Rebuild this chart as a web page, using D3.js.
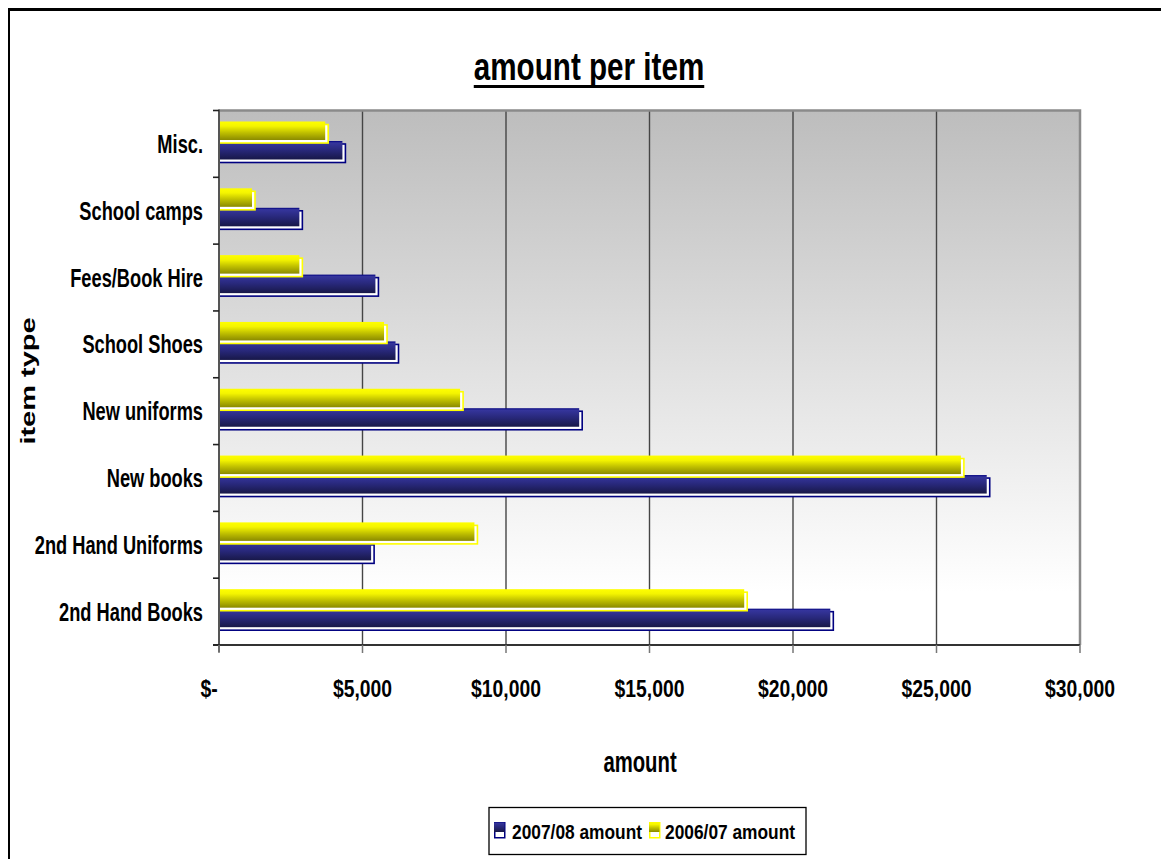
<!DOCTYPE html>
<html>
<head>
<meta charset="utf-8">
<script src="https://cdn.jsdelivr.net/npm/d3@7"></script>
<style>
  body { margin: 0; background: #fff; }
  svg { display: block; }
  text { font-family: "Liberation Sans", Arial, sans-serif; font-weight: bold; fill: #000; }
</style>
</head>
<body>
<svg id="chart" width="1161" height="859"></svg>
<script>
// Categories listed top to bottom as they appear on the vertical axis
const categories = ["Misc.", "School camps", "Fees/Book Hire", "School Shoes",
                    "New uniforms", "New books", "2nd Hand Uniforms", "2nd Hand Books"];
const seriesNames = ["2006/07 amount", "2007/08 amount"];
const amount0607 = [3700, 1150, 2800, 5750, 8400, 25850, 8900, 18300];
const amount0708 = [4300, 2800, 5450, 6150, 12550, 26750, 5300, 21300];
const xTicks = [0, 5000, 10000, 15000, 20000, 25000, 30000];

const seriesValues = { "2006/07 amount": amount0607, "2007/08 amount": amount0708 };
const seriesStyle = {
  "2007/08 amount": { grad: "gradBlue", stroke: "#000080" },
  "2006/07 amount": { grad: "gradYellow", stroke: "#ffff00" }
};

const svg = d3.select("#chart");
const defs = svg.append("defs");

function vGradient(id, stops) {
  const g = defs.append("linearGradient").attr("id", id)
    .attr("x1", 0).attr("y1", 0).attr("x2", 0).attr("y2", 1);
  stops.forEach(s => g.append("stop").attr("offset", s[0]).attr("stop-color", s[1]));
}
vGradient("gradPlot", [[0, "#bdbdbd"], [0.55, "#e6e6e6"], [0.9, "#ffffff"], [1, "#ffffff"]]);
vGradient("gradBlue", [[0, "#000080"], [0.1, "#35359c"], [0.5, "#28287a"], [1, "#181848"]]);
vGradient("gradYellow", [[0, "#ffff00"], [0.25, "#f4f400"], [0.6, "#c0c000"], [1, "#8a8a00"]]);

// Text helper: bold, horizontally condensed labels
function label(parent, str, x, y, size, sx, anchor, rotate) {
  const g = parent.append("g")
    .attr("transform", `translate(${x},${y})` + (rotate ? ` rotate(${rotate})` : "") + ` scale(${sx},1)`);
  g.append("text").attr("text-anchor", anchor).attr("font-size", size).text(str);
  return g;
}

// Outer frame
svg.append("line").attr("x1", 8).attr("x2", 1161).attr("y1", 9.5).attr("y2", 9.5)
  .attr("stroke", "#000").attr("stroke-width", 3);
svg.append("line").attr("x1", 9).attr("x2", 9).attr("y1", 8).attr("y2", 859)
  .attr("stroke", "#000").attr("stroke-width", 2);

// Scales
const x = d3.scaleLinear().domain([0, 30000]).range([219, 1080]);
const y = d3.scaleBand().domain(categories).range([110.5, 645]).padding(0);
const y1 = d3.scaleBand().domain(seriesNames).range([11, 49]).paddingInner(0.05);

// Plot area
svg.append("rect").attr("x", x(0)).attr("y", y.range()[0])
  .attr("width", x(30000) - x(0)).attr("height", y.range()[1] - y.range()[0])
  .attr("fill", "url(#gradPlot)");

// Vertical gridlines
svg.selectAll("line.grid").data(xTicks.slice(1, -1)).join("line").attr("class", "grid")
  .attr("x1", d => x(d)).attr("x2", d => x(d))
  .attr("y1", y.range()[0]).attr("y2", y.range()[1])
  .attr("stroke", "#454545").attr("stroke-width", 1.4);

// Plot border (top and right)
svg.append("path")
  .attr("d", `M${x(0)},${y.range()[0]}H${x(30000)}V${y.range()[1]}`)
  .attr("fill", "none").attr("stroke", "#8a8a8a").attr("stroke-width", 2.5);

// Bars: 2007/08 drawn first, 2006/07 on top
const drawOrder = ["2007/08 amount", "2006/07 amount"];
drawOrder.forEach(s => {
  const vals = seriesValues[s];
  const st = seriesStyle[s];
  const g = svg.append("g");
  const rows = categories.map((c, i) => ({ c, v: vals[i] }));
  const bh = y1.bandwidth();
  g.selectAll("rect.edge").data(rows).join("rect").attr("class", "edge")
    .attr("x", x(0)).attr("y", d => y(d.c) + y1(s) + 3)
    .attr("width", d => x(d.v) - x(0) + 3).attr("height", bh)
    .attr("fill", "#fff").attr("stroke", st.stroke).attr("stroke-width", 1.6);
  g.selectAll("rect.face").data(rows).join("rect").attr("class", "face")
    .attr("x", x(0)).attr("y", d => y(d.c) + y1(s))
    .attr("width", d => x(d.v) - x(0)).attr("height", bh)
    .attr("fill", `url(#${st.grad})`);
});

// Axes lines
svg.append("line").attr("x1", x(0)).attr("x2", x(0))
  .attr("y1", y.range()[0] - 1).attr("y2", y.range()[1] + 7)
  .attr("stroke", "#555").attr("stroke-width", 2);
svg.append("line").attr("x1", x(0) - 6).attr("x2", x(30000))
  .attr("y1", y.range()[1]).attr("y2", y.range()[1])
  .attr("stroke", "#333").attr("stroke-width", 2);

// Category tick marks at band boundaries
const bounds = categories.map(c => y(c)).concat([y.range()[1]]);
svg.selectAll("line.ytick").data(bounds).join("line").attr("class", "ytick")
  .attr("x1", x(0) - 6).attr("x2", x(0)).attr("y1", d => d).attr("y2", d => d)
  .attr("stroke", "#222").attr("stroke-width", 1.6);

// Value tick marks
svg.selectAll("line.xtick").data(xTicks).join("line").attr("class", "xtick")
  .attr("x1", d => x(d)).attr("x2", d => x(d))
  .attr("y1", y.range()[1]).attr("y2", y.range()[1] + 8)
  .attr("stroke", "#777").attr("stroke-width", 1.5);

// Category labels
categories.forEach(c => {
  label(svg, c, x(0) - 16, y(c) + y.bandwidth() / 2 + 9, 25, 0.73, "end");
});

// Value labels
const fmt = d => d === 0 ? "$-" : "$" + d3.format(",")(d);
xTicks.forEach(d => {
  label(svg, fmt(d), x(d) + (d === 0 ? -10 : 0), 697, 24.5, 0.79, "middle");
});

// Title with underline
const tg = label(svg, "amount per item", 589, 80, 39, 0.76, "middle");
const tb = tg.select("text").node().getBBox();
tg.append("rect").attr("x", tb.x).attr("y", 5).attr("width", tb.width).attr("height", 3).attr("fill", "#000");

// Axis titles
label(svg, "amount", 640, 772, 29, 0.7, "middle");
label(svg, "item type", 35, 381, 21, 1.38, "middle", -90);

// Legend
const lg = svg.append("g");
lg.append("rect").attr("x", 489).attr("y", 807.5).attr("width", 317).attr("height", 47)
  .attr("fill", "#fff").attr("stroke", "#000").attr("stroke-width", 1.3);
const legendItems = [
  { name: "2007/08 amount", mx: 494, tx: 512 },
  { name: "2006/07 amount", mx: 649, tx: 665 }
];
legendItems.forEach(it => {
  const st = seriesStyle[it.name];
  lg.append("rect").attr("x", it.mx + 0.75).attr("y", 822.75).attr("width", 10).attr("height", 15)
    .attr("fill", "#fff").attr("stroke", st.stroke).attr("stroke-width", 1.5);
  lg.append("rect").attr("x", it.mx).attr("y", 822).attr("width", 10.5).attr("height", 10)
    .attr("fill", `url(#${st.grad})`);
  label(lg, it.name, it.tx, 839, 19.5, 0.89, "start");
});
</script>
</body>
</html>
